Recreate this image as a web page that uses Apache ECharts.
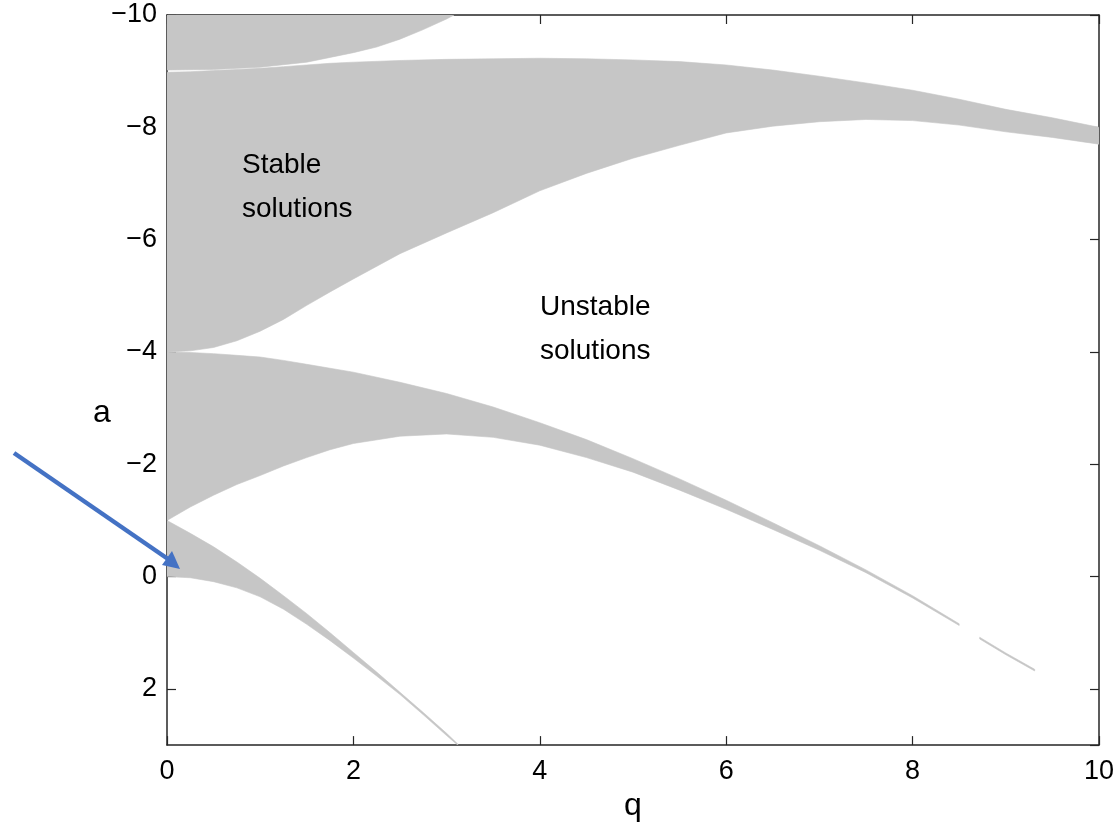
<!DOCTYPE html>
<html>
<head>
<meta charset="utf-8">
<title>Stability regions</title>
<script src="https://cdn.jsdelivr.net/npm/echarts@6/dist/echarts.min.js"></script>
<style>
  html, body { margin: 0; padding: 0; background: #fff; }
  #chart { width: 1117px; height: 827px; }
</style>
</head>
<body>
<div id="chart"></div>
<script>
// axis ticks
const xTicks = [0, 2, 4, 6, 8, 10];
const yTicks = [-10, -8, -6, -4, -2, 0, 2];
const yMax = 3;

// stable band 1 (starts between a = -1 and a = 0)
const band1Q   = [0, 0.25, 0.5, 0.75, 1, 1.25, 1.5, 1.75, 2, 2.25, 2.5, 2.75, 3, 3.12];
const band1Top = [-1.0, -0.77, -0.53, -0.26, 0.03, 0.34, 0.66, 1.0, 1.35, 1.7, 2.06, 2.42, 2.79, 2.98];
const band1Bot = [0.0, 0.02, 0.09, 0.2, 0.36, 0.58, 0.85, 1.14, 1.45, 1.77, 2.1, 2.46, 2.83, 3.0];

// stable band 2 (starts between a = -4 and a = -1)
const band2Q   = [0, 0.25, 0.5, 0.75, 1, 1.25, 1.5, 1.75, 2, 2.5, 3, 3.5, 4, 4.5, 5, 5.5, 6, 6.5, 7, 7.5, 8, 8.5];
const band2Top = [-4.0, -3.99, -3.97, -3.94, -3.91, -3.85, -3.78, -3.71, -3.64, -3.46, -3.26, -3.02, -2.74, -2.44, -2.1, -1.74, -1.36, -0.96, -0.55, -0.12, 0.34, 0.84];
const band2Bot = [-1.0, -1.24, -1.45, -1.64, -1.8, -1.97, -2.12, -2.26, -2.37, -2.5, -2.54, -2.48, -2.34, -2.12, -1.86, -1.54, -1.2, -0.84, -0.47, -0.07, 0.38, 0.87];
// its thin tail after the small gap
const band2TailQ   = [8.72, 9.0, 9.31];
const band2TailTop = [1.08, 1.36, 1.65];
const band2TailBot = [1.11, 1.39, 1.68];

// stable band 3 (starts between a = -9 and a = -4)
const band3Q   = [0, 0.25, 0.5, 0.75, 1, 1.25, 1.5, 1.75, 2, 2.5, 3, 3.5, 4, 4.5, 5, 5.5, 6, 6.5, 7, 7.5, 8, 8.5, 9, 9.5, 10];
const band3Top = [-8.98, -8.99, -9.01, -9.03, -9.05, -9.08, -9.11, -9.14, -9.16, -9.19, -9.21, -9.22, -9.23, -9.22, -9.2, -9.17, -9.11, -9.02, -8.91, -8.79, -8.66, -8.5, -8.32, -8.17, -8.0];
const band3Bot = [-4.0, -4.02, -4.08, -4.2, -4.37, -4.58, -4.83, -5.07, -5.3, -5.75, -6.12, -6.48, -6.87, -7.18, -7.45, -7.68, -7.9, -8.02, -8.1, -8.14, -8.12, -8.04, -7.92, -7.82, -7.7];

// stable band 4 (above a = -9, cut by the top of the axes)
const band4Q   = [0, 0.5, 1, 1.5, 2, 2.25, 2.5, 2.75, 3, 3.08];
const band4Top = [-10, -10, -10, -10, -10, -10, -10, -10, -10, -10];
const band4Bot = [-9.02, -9.03, -9.07, -9.16, -9.33, -9.43, -9.57, -9.74, -9.93, -10];

const stableColor = '#c6c6c6';
const axisColor = '#262626';
const arrowColor = '#4472c4';
const font = 'Liberation Sans, Arial, Helvetica, sans-serif';

function minusLabel(v) {
    return v < 0 ? '\u2212' + (-v) : String(v);
}

function bandSeries(qs, top, bot) {
    return {
        type: 'custom',
        clip: true,
        silent: true,
        data: [[qs[0], top[0]]],
        renderItem: function (params, api) {
            let pts = [];
            for (let i = 0; i < qs.length; i++) pts.push(api.coord([qs[i], top[i]]));
            for (let i = qs.length - 1; i >= 0; i--) pts.push(api.coord([qs[i], bot[i]]));
            return {
                type: 'polygon',
                shape: { points: pts },
                style: { fill: stableColor, stroke: stableColor, lineWidth: 0.6 }
            };
        }
    };
}

function baseAxis(extra) {
    return Object.assign({
        type: 'value',
        splitLine: { show: false },
        axisLine: { show: true, onZero: false, lineStyle: { color: axisColor, width: 1.5 } },
        axisTick: { show: true, inside: true, length: 9, lineStyle: { color: axisColor, width: 1.2 } }
    }, extra);
}

let chart = echarts.init(document.getElementById('chart'));

chart.setOption({
    backgroundColor: '#ffffff',
    animation: false,
    grid: { left: 167, right: 18, top: 15, bottom: 77, containLabel: false },
    xAxis: [
        baseAxis({
            position: 'bottom',
            min: xTicks[0], max: xTicks[xTicks.length - 1], interval: xTicks[1] - xTicks[0],
            axisLabel: { fontSize: 27, color: '#000', margin: 13, fontFamily: font },
            name: 'q', nameLocation: 'middle', nameGap: 40,
            nameTextStyle: { fontSize: 32, color: '#000', fontFamily: font }
        }),
        baseAxis({
            position: 'top',
            min: xTicks[0], max: xTicks[xTicks.length - 1], interval: xTicks[1] - xTicks[0],
            axisLabel: { show: false }
        })
    ],
    yAxis: [
        baseAxis({
            position: 'left', inverse: true,
            min: yTicks[0], max: yMax, interval: yTicks[1] - yTicks[0],
            axisLabel: { fontSize: 27, color: '#000', margin: 10, fontFamily: font,
                         padding: [8, 0, 0, 0], showMaxLabel: false, formatter: minusLabel }
        }),
        baseAxis({
            position: 'right', inverse: true,
            min: yTicks[0], max: yMax, interval: yTicks[1] - yTicks[0],
            axisLabel: { show: false }
        })
    ],
    series: [
        bandSeries(band1Q, band1Top, band1Bot),
        bandSeries(band2Q, band2Top, band2Bot),
        bandSeries(band2TailQ, band2TailTop, band2TailBot),
        bandSeries(band3Q, band3Top, band3Bot),
        bandSeries(band4Q, band4Top, band4Bot)
    ],
    graphic: [
        { type: 'text', z: 100, left: 93, top: 397, style: { text: 'a', font: '32px ' + font, fill: '#000' } },
        { type: 'text', z: 100, left: 242, top: 143, style: { text: 'Stable\nsolutions', font: '28px ' + font, fill: '#000', lineHeight: 44 } },
        { type: 'text', z: 100, left: 540, top: 285, style: { text: 'Unstable\nsolutions', font: '28px ' + font, fill: '#000', lineHeight: 44 } },
        // blue arrow pointing at the first stable band
        { type: 'line', z: 100, shape: { x1: 14, y1: 453, x2: 168, y2: 559 }, style: { stroke: arrowColor, lineWidth: 4.5 } },
        { type: 'polygon', z: 100, shape: { points: [[180, 569], [162, 565], [172, 551]] }, style: { fill: arrowColor } }
    ]
});
</script>
</body>
</html>
